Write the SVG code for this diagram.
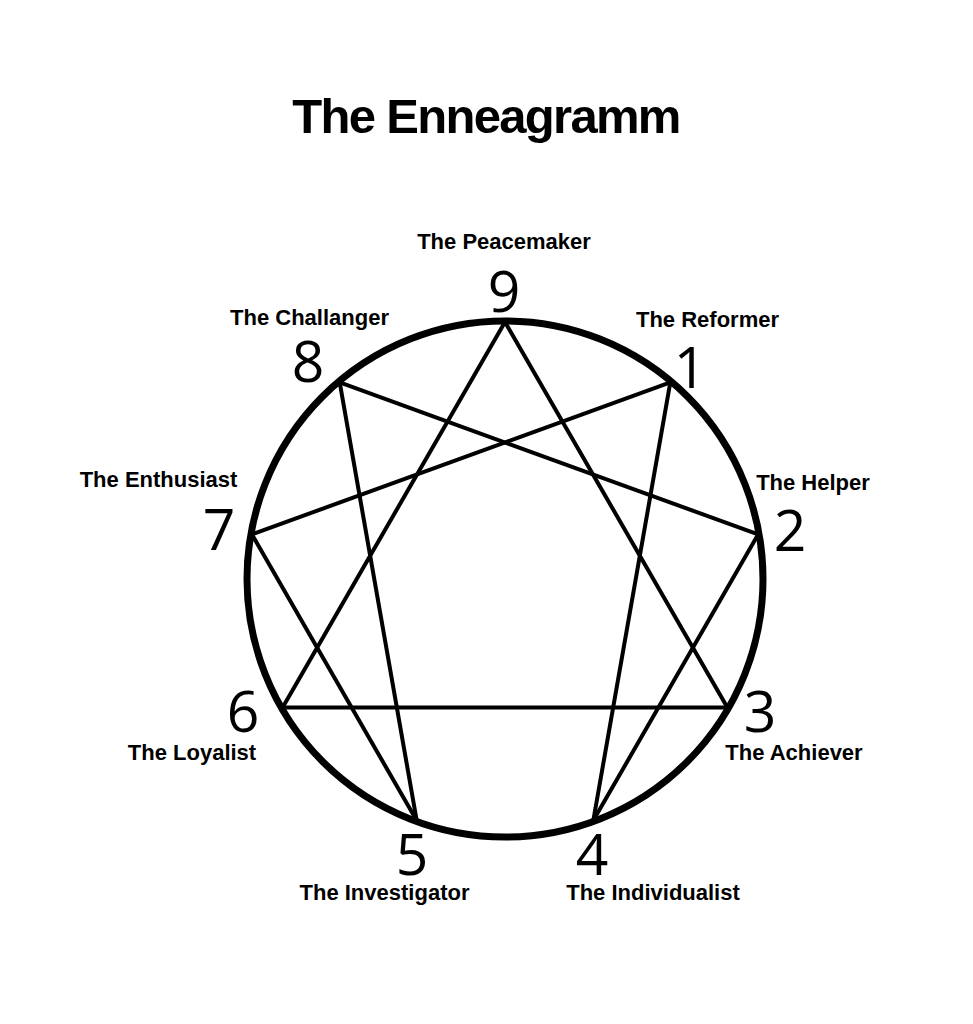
<svg xmlns="http://www.w3.org/2000/svg" width="973" height="1024" viewBox="0 0 973 1024">
<style>
.title{font-family:"Liberation Sans",Arial,sans-serif;font-weight:bold;font-size:49px;letter-spacing:-1.7px;fill:#000}
.lbl{font-family:"Liberation Sans",Arial,sans-serif;font-weight:bold;font-size:22px;fill:#000;text-anchor:middle}
.num{font-family:"Open Sans","DejaVu Sans",sans-serif;font-size:57px;fill:#000;text-anchor:middle}
.ln{stroke:#000;stroke-width:4;stroke-linecap:round;fill:none}
</style>
<rect width="973" height="1024" fill="#fff"/>
<text class="title" x="486" y="133" text-anchor="middle">The Enneagramm</text>
<g id="connectors">
<line class="ln" x1="505" y1="322" x2="727.4" y2="707.5"/>
<line class="ln" x1="505" y1="322" x2="282.6" y2="707.5"/>
<line class="ln" x1="282.6" y1="707.5" x2="727.4" y2="707.5"/>
<line class="ln" x1="670.3" y1="382.4" x2="593.3" y2="820.5"/>
<line class="ln" x1="593.3" y1="820.5" x2="758.1" y2="534.4"/>
<line class="ln" x1="758.1" y1="534.4" x2="339.7" y2="382.4"/>
<line class="ln" x1="339.7" y1="382.4" x2="416.7" y2="820.5"/>
<line class="ln" x1="416.7" y1="820.5" x2="251.9" y2="534.4"/>
<line class="ln" x1="251.9" y1="534.4" x2="670.3" y2="382.4"/>
</g>
<circle id="ring" cx="505" cy="579" r="258" fill="none" stroke="#000" stroke-width="7"/>
<g id="n9"><text class="num" x="504" y="312">9</text><text class="lbl" x="504" y="249">The Peacemaker</text></g>
<g id="n1"><text class="num" x="690" y="388">1</text><text class="lbl" x="707.5" y="327">The Reformer</text></g>
<g id="n2"><text class="num" x="790" y="551">2</text><text class="lbl" x="813" y="490">The Helper</text></g>
<g id="n3"><text class="num" x="760" y="732">3</text><text class="lbl" x="794" y="760">The Achiever</text></g>
<g id="n4"><text class="num" x="592" y="875">4</text><text class="lbl" x="653" y="900">The Individualist</text></g>
<g id="n5"><text class="num" x="412" y="875">5</text><text class="lbl" x="384.5" y="900">The Investigator</text></g>
<g id="n6"><text class="num" x="243" y="732">6</text><text class="lbl" x="192" y="760">The Loyalist</text></g>
<g id="n7"><text class="num" x="219" y="550">7</text><text class="lbl" x="158.5" y="487">The Enthusiast</text></g>
<g id="n8"><text class="num" x="308" y="382">8</text><text class="lbl" x="309.5" y="325">The Challanger</text></g>
</svg>
